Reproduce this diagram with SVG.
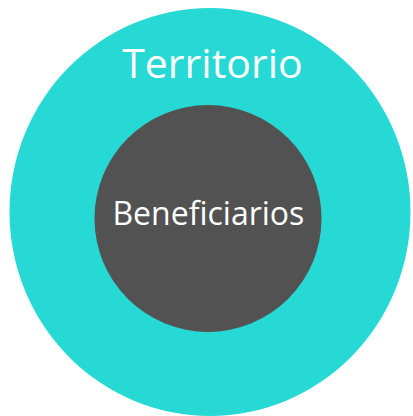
<svg xmlns="http://www.w3.org/2000/svg" width="413" height="416" viewBox="0 0 413 416">
<style>
.lbl{font-family:"Open Sans","Liberation Sans",sans-serif;fill:#ffffff;text-anchor:middle}
</style>
<rect width="413" height="416" fill="#ffffff"/>
<g id="territorio">
<ellipse cx="210" cy="212" rx="200.5" ry="204" fill="#26D9D4"/>
<text class="lbl" x="212.5" y="78" font-size="41">Territorio</text>
</g>
<g id="beneficiarios">
<circle cx="208" cy="218.5" r="113.5" fill="#525252"/>
<text class="lbl" x="208.4" y="225" font-size="32">Beneficiarios</text>
</g>
<g id="connectors"></g>
</svg>
